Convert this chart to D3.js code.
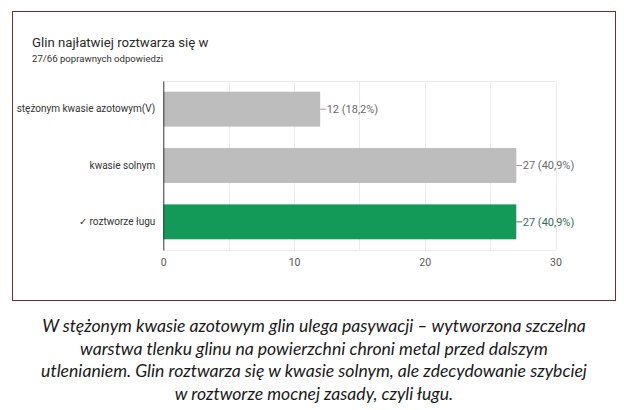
<!DOCTYPE html>
<html>
<head>
<meta charset="utf-8">
<script src="https://cdn.jsdelivr.net/npm/d3@7"></script>
<style>
  body { margin: 0; background: #fff; }
  svg { display: block; }
</style>
</head>
<body>
<div id="chart"></div>
<script>
const categories = ["stężonym kwasie azotowym(V)", "kwasie solnym", "✓ roztworze ługu"];
const counts = [12, 27, 27];
const correct = [false, false, true];
const totalAnswers = 66;
const xTicks = [0, 10, 20, 30];
const gridTicks = [5, 10, 15, 20, 25, 30];
const title = "Glin najłatwiej roztwarza się w";
const subtitle = "27/66 poprawnych odpowiedzi";
const caption = [
  "W stężonym kwasie azotowym glin ulega pasywacji – wytworzona szczelna",
  "warstwa tlenku glinu na powierzchni chroni metal przed dalszym",
  "utlenianiem. Glin roztwarza się w kwasie solnym, ale zdecydowanie szybciej",
  "w roztworze mocnej zasady, czyli ługu."
];

function init() {
  const w = 624, h = 410;
  const margin = { top: 81, right: 68.5, bottom: 160, left: 163.3 };

  const svg = d3.select("#chart").append("svg")
    .attr("width", w)
    .attr("height", h)
    .attr("viewBox", [0, 0, w, h]);

  // frame
  svg.append("rect")
    .attr("x", 12.5).attr("y", 11.5)
    .attr("width", 603).attr("height", 289)
    .attr("fill", "none")
    .attr("stroke", "#7b2b2f")
    .attr("stroke-width", 1);

  svg.append("text")
    .attr("x", 32).attr("y", 47)
    .attr("font-family", "Roboto")
    .attr("font-size", 13.2)
    .attr("fill", "#2a2a2a")
    .text(title);

  svg.append("text")
    .attr("x", 32).attr("y", 61.5)
    .attr("font-family", "Roboto")
    .attr("font-size", 9.6)
    .attr("fill", "#333")
    .text(subtitle);

  const x = d3.scaleLinear()
    .domain([0, 30])
    .range([margin.left, w - margin.right]);

  const y = d3.scaleBand()
    .domain(categories)
    .range([margin.top, h - margin.bottom])
    .paddingInner(0.38)
    .paddingOuter(0.19);

  // grid
  svg.append("g")
    .attr("stroke", "#ebebeb")
    .selectAll("line")
    .data(gridTicks)
    .join("line")
    .attr("x1", d => Math.round(x(d)) + 0.5)
    .attr("x2", d => Math.round(x(d)) + 0.5)
    .attr("y1", margin.top)
    .attr("y2", h - margin.bottom);

  svg.append("g")
    .attr("stroke", "#ebebeb")
    .selectAll("line")
    .data([margin.top, h - margin.bottom])
    .join("line")
    .attr("x1", margin.left)
    .attr("x2", x(30))
    .attr("y1", d => d + 0.5)
    .attr("y2", d => d + 0.5);

  // bars
  svg.append("g")
    .selectAll("rect")
    .data(categories)
    .join("rect")
    .attr("x", x(0))
    .attr("y", d => y(d))
    .attr("width", (d, i) => x(counts[i]) - x(0))
    .attr("height", y.bandwidth())
    .attr("fill", (d, i) => correct[i] ? "#149a58" : "#bdbdbd");

  // value labels
  const fmt = v => (Math.round(v / totalAnswers * 1000) / 10).toFixed(1).replace(".", ",");
  const labels = svg.append("g")
    .selectAll("g")
    .data(categories)
    .join("g")
    .attr("transform", (d, i) => `translate(${x(counts[i])},${y(d) + y.bandwidth() / 2})`);

  labels.append("line")
    .attr("x1", 0).attr("x2", 6)
    .attr("stroke", (d, i) => correct[i] ? "#4b7f66" : "#9e9e9e")
    .attr("stroke-width", 1);

  labels.append("text")
    .attr("x", 6.5)
    .attr("dy", "0.35em")
    .attr("font-family", "Roboto")
    .attr("font-size", 11)
    .attr("fill", (d, i) => correct[i] ? "#2f6e52" : "#6b6b6b")
    .text((d, i) => `${counts[i]} (${fmt(counts[i])}%)`);

  // y axis
  const yAxis = svg.append("g")
    .attr("transform", `translate(${margin.left},0)`)
    .call(d3.axisLeft(y).tickSize(0).tickPadding(8));
  yAxis.select(".domain").attr("stroke", "#333");
  yAxis.selectAll("text")
    .attr("font-family", "Roboto")
    .attr("font-size", 10)
    .attr("fill", "#333");

  // x axis
  const xAxis = svg.append("g")
    .attr("transform", `translate(0,${h - margin.bottom})`)
    .call(d3.axisBottom(x).tickValues(xTicks).tickSize(0).tickPadding(9));
  xAxis.select(".domain").remove();
  xAxis.selectAll("text")
    .attr("font-family", "Roboto")
    .attr("font-size", 10.5)
    .attr("fill", "#555");

  // caption
  svg.append("g")
    .selectAll("text")
    .data(caption)
    .join("text")
    .attr("x", 314)
    .attr("y", (d, i) => 332 + i * 22.7)
    .attr("text-anchor", "middle")
    .attr("font-family", "Lato")
    .attr("font-style", "italic")
    .attr("font-weight", 400)
    .attr("font-size", 17.6)
    .attr("fill", "#1a1a1a")
    .text(d => d);
}

window.onload = init;
</script>
</body>
</html>
